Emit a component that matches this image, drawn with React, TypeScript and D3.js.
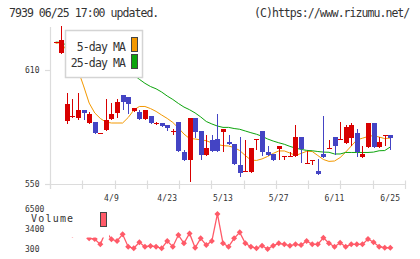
import * as d3 from "d3";

// daily candles, oldest first (6/25 is the last one)
const opens = [
  625, 619, 583, 586, 585, 589, 582, 582.6, 576.7, 578.4,
  584.4, 587.5, 596.8, 595.6, 588.6, 587.9, 584.4, 585.8, 581.7, 582.1,
  581.2, 577.7, 582.6, 566.8, 562.8, 584.7, 577.9, 565.4, 573.2, 573.7,
  577.5, 572.1, 571.1, 560, 556.7, 556.5, 573.5, 577.9, 566.8, 565.8,
  568.6, 564.6, 564.7, 564.6, 574.7, 561, 562.8, 556.8, 565.9, 568.9,
  574.7, 573.7, 571.7, 574.4, 576.8, 564.4, 569.6, 582.1, 569.6, 575.6,
  575.8,
];
const highs = [
  625, 633, 598, 595, 598, 589, 588, 582.6, 576.7, 594.7,
  592.8, 594.7, 596.8, 595.6, 590, 588.9, 588.9, 585.8, 582.6, 582.1,
  581.2, 579.1, 582.6, 567.9, 584.7, 584.7, 577.9, 575.8, 575.8, 586.8,
  578.9, 575.8, 571.1, 574.7, 573.2, 568.9, 573.9, 577.9, 570.2, 565.8,
  569.9, 564.6, 566.8, 581.1, 574.7, 567.2, 562.8, 563.2, 585.8, 573.2,
  574.7, 582.6, 581.2, 582.1, 578.9, 570.2, 582.1, 582.1, 574.7, 575.6,
  575.8,
];
const lows = [
  625, 619, 582, 585.5, 584.4, 584.4, 582, 576.7, 576.7, 578.4,
  584.4, 585.5, 589.6, 587.4, 588.6, 584.4, 584.4, 582.3, 581.6, 580.7,
  578.6, 576.3, 567.5, 562.8, 551.7, 574.5, 563.3, 565.4, 567.5, 567.5,
  567.5, 570.9, 560.5, 554.4, 556.7, 556.5, 568.6, 565.4, 565.4, 562.7,
  563.3, 563.3, 564.7, 564.6, 561.6, 561, 560.5, 555.4, 564.4, 568.9,
  565.8, 573.7, 571.7, 570.7, 564.6, 564.4, 569.6, 569.6, 569.6, 570.7,
  568.6,
];
const closes = [
  625, 626, 592, 586, 589, 587.5, 587, 576.7, 576.7, 583.7,
  586.8, 593.3, 593.2, 592.1, 590, 584.4, 588.9, 582.3, 582.3, 580.7,
  579.5, 577.7, 567.5, 562.8, 584.7, 577.5, 565.4, 568.9, 567.5, 567.5,
  578.9, 570.9, 560.5, 555.6, 556.7, 568.9, 573.9, 566.7, 565.4, 562.7,
  569.9, 564.6, 564.7, 574.7, 568.4, 561, 562.8, 555.4, 564.4, 568.9,
  569.8, 573.7, 580, 581.1, 566.7, 565.9, 582.1, 569.6, 572.1, 575.6,
  574.4,
];

const ma5 = [
  624, 624.5, 620, 615, 610, 601.6, 592.6, 587.4, 584.5, 582.6,
  582.1, 582.1, 582.1, 585, 588.9, 590.8, 590.8, 589.7, 588.2, 586.3,
  584.5, 582.4, 579.5, 576.3, 573.9, 573.7, 573.2, 572.8, 571.6, 570.8,
  570.2, 570, 569.2, 567.6, 565, 562.6, 562.4, 563.2, 564.5, 566.1,
  567.4, 567.4, 566.3, 565, 566.1, 567.2, 567.1, 565, 562.9, 561.9,
  562.1, 563.9, 566.8, 570, 573.2, 574.1, 575, 575.5, 574.7, 573.9,
  574.2,
];
const ma25 = [
  624.7, 624.5, 623, 621.5, 620, 618.5, 617, 615.5, 614, 612.8,
  611.5, 610.3, 609.2, 608.3, 607.4, 605.1, 603, 601.3, 600.1, 598.4,
  596.3, 594.5, 592.4, 590.5, 589.1, 587.4, 585.3, 582.9, 581.6, 580.5,
  579.8, 579.8, 579.2, 578.8, 577.9, 577, 576.2, 575.1, 573.7, 572.6,
  571.7, 570.9, 569.8, 568.9, 568.2, 567.7, 567.5, 567.1, 566.8, 566.7,
  565.8, 565.8, 566.6, 566.6, 566.6, 566.6, 566.6, 566.8, 567.5, 567.6,
  569.5,
];
const volumes = [
  3000, 4500, 5200, 2500, 3600, 3300, 1970, 1860, 1030, 3100,
  1820, 1550, 2600, 660, 410, 1350, 660, 770, 660, 410,
  1550, 660, 2490, 1190, 2750, 500, 1970, 920, 1550, 5800,
  1190, 660, 1970, 2910, 1190, 660, 410, 820, 300, 820,
  1190, 1030, 820, 1030, 920, 1550, 1030, 1030, 2070, 1190,
  660, 1280, 660, 1030, 1030, 1030, 1860, 1350, 660, 500,
  500,
];

const dateLabels = ["4/9", "4/23", "5/13", "5/27", "6/11", "6/25"];
const dateLabelIndex = [10, 20, 30, 40, 50, 60];
const priceTicks = [610, 550];
const volumeTicks = [6500, 3400, 300];

const W = 420;
const H = 259;
const UP = "#d80000";
const DOWN = "#4444c4";
const MA5_COLOR = "#f39800";
const MA25_COLOR = "#0ca40c";
const VOL_COLOR = "#ff5a68";
const AXIS = "#dcdcdc";
const TEXT = "#333";
const MONO = "'DejaVu Sans Mono', monospace";

export default function App() {
  const x = d3.scaleLinear().domain([0, 60]).range([55.7, 390.3]);
  const y = d3.scaleLinear().domain([550, 610]).range([184, 70]);
  const yv = d3.scaleLinear().domain([300, 6500]).range([249, 209.5]);
  const tickX = d3.scaleLinear().domain([0, 11]).range([50, 405]);

  const maLine = d3
    .line<number>()
    .x((_, i) => x(i))
    .y((d) => y(d));
  const volLine = d3
    .line<number>()
    .x((_, i) => x(i))
    .y((d) => yv(d));

  const diamond = "M0,-3L3,0L0,3L-3,0Z";

  return (
    <svg
      width={W}
      height={H}
      style={{ position: "absolute", left: 0, top: 0, background: "#fff" }}
      fontFamily={MONO}
    >
      {/* header */}
      <text x={9} y={17} fontSize={11.5} letterSpacing={-0.95} fill={TEXT}>
        7939 06/25 17:00 updated.
      </text>
      <text x={254} y={17} fontSize={11.5} letterSpacing={-0.95} fill={TEXT}>
        (C)https://www.rizumu.net/
      </text>

      {/* axes */}
      <line x1={50.5} x2={50.5} y1={27} y2={189} stroke={AXIS} strokeWidth={1.2} />
      <line x1={45} x2={405} y1={184.5} y2={184.5} stroke={AXIS} strokeWidth={1.2} />
      {d3.range(12).map((k) => (
        <line
          key={`t${k}`}
          x1={Math.round(tickX(k)) + 0.5}
          x2={Math.round(tickX(k)) + 0.5}
          y1={180.5}
          y2={189}
          stroke={AXIS}
          strokeWidth={1.2}
        />
      ))}
      {priceTicks.map((p) => (
        <g key={`p${p}`}>
          <line x1={45} x2={50} y1={Math.round(y(p)) + 0.5} y2={Math.round(y(p)) + 0.5} stroke={AXIS} strokeWidth={1.2} />
          <text x={25} y={y(p) + 2.9} fontSize={8} fill={TEXT}>
            {p}
          </text>
        </g>
      ))}
      {dateLabels.map((d, k) => (
        <text
          key={d}
          x={x(dateLabelIndex[k])}
          y={200.7}
          fontSize={8}
          letterSpacing={0.2}
          textAnchor="middle"
          fill={TEXT}
        >
          {d}
        </text>
      ))}

      {/* moving averages */}
      <path d={maLine(ma5) ?? ""} fill="none" stroke={MA5_COLOR} strokeWidth={1} />
      <path d={maLine(ma25) ?? ""} fill="none" stroke={MA25_COLOR} strokeWidth={1} />

      {/* candles */}
      {opens.map((o, i) => {
        const c = closes[i];
        const cx = Math.round(x(i));
        const top = Math.round(y(Math.max(o, c)));
        const bot = Math.round(y(Math.min(o, c)));
        const col = c >= o ? UP : DOWN;
        return (
          <g key={`c${i}`}>
            <line
              x1={cx + 0.5}
              x2={cx + 0.5}
              y1={Math.round(y(highs[i]))}
              y2={Math.round(y(lows[i])) + 1}
              stroke={col}
              strokeWidth={1}
            />
            <rect x={cx - 2} y={top} width={5} height={Math.max(1, bot - top)} fill={col} />
          </g>
        );
      })}

      {/* moving average legend */}
      <rect x={65.5} y={30.5} width={77} height={47} fill="#fff" stroke="#d4d4d4" strokeWidth={1.5} />
      <text x={125} y={50.5} fontSize={11.5} letterSpacing={-0.9} textAnchor="end" fill={TEXT}>
        5-day MA
      </text>
      <text x={125} y={67} fontSize={11.5} letterSpacing={-0.9} textAnchor="end" fill={TEXT}>
        25-day MA
      </text>
      <rect x={131.5} y={37.5} width={6} height={14} fill={MA5_COLOR} stroke="#444" strokeWidth={1} />
      <rect x={131.5} y={54.5} width={6} height={14} fill={MA25_COLOR} stroke="#444" strokeWidth={1} />

      {/* volume */}
      <path d={volLine(volumes) ?? ""} fill="none" stroke={VOL_COLOR} strokeWidth={1.3} />
      {volumes.map((v, i) => (
        <path key={`v${i}`} d={diamond} transform={`translate(${x(i)},${yv(v)})`} fill={VOL_COLOR} />
      ))}
      <rect x={46} y={203} width={63} height={34.5} fill="#fff" />
      <text x={31} y={222.3} fontSize={10} letterSpacing={1.2} fill={TEXT}>
        Volume
      </text>
      <rect x={100.5} y={212.5} width={6} height={14} fill={VOL_COLOR} stroke="#444" strokeWidth={1} />
      {volumeTicks.map((v) => (
        <text key={`vt${v}`} x={25} y={yv(v) + 2.9} fontSize={8} fill={TEXT}>
          {v}
        </text>
      ))}
    </svg>
  );
}
